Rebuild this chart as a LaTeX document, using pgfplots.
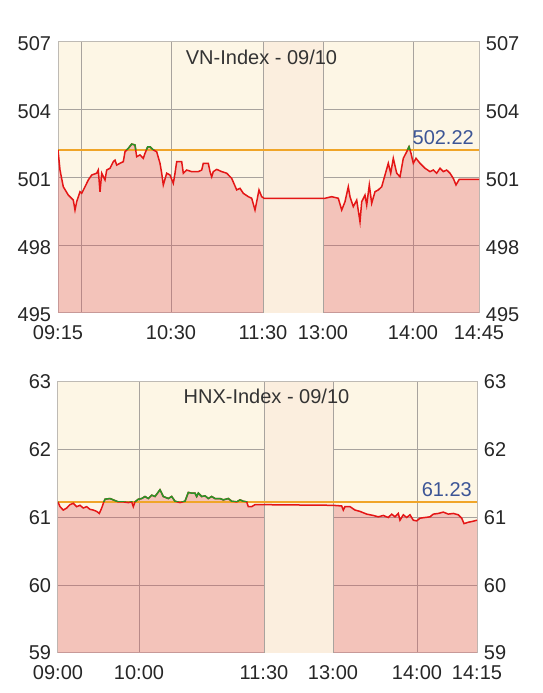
\documentclass[border=0pt]{standalone}
\usepackage{pgfplots}
\usepackage{pgfplotstable}
\pgfplotsset{compat=1.18}
\usepackage{fontspec}
\setmainfont{Liberation Sans}
\definecolor{cream}{RGB}{253,246,229}
\definecolor{lunch}{RGB}{251,238,222}
\definecolor{pinkbase}{RGB}{220,79,88}
\definecolor{gridc}{RGB}{168,163,158}
\definecolor{borderc}{RGB}{190,186,180}
\definecolor{refc}{RGB}{240,165,40}
\definecolor{linec}{RGB}{228,22,22}
\definecolor{upc}{RGB}{40,150,40}
\definecolor{valc}{RGB}{60,85,150}

\pgfplotstableread[row sep=\\]{
x y\\
0 502.22\\ 2 501.33\\ 5.3 500.59\\ 10.3 500.22\\ 15.3 500.00\\ 17 499.56\\ 18.7 499.93\\
22 500.37\\ 23.7 500.30\\ 27 500.59\\ 30.3 500.89\\ 33.7 501.11\\ 38.7 501.19\\ 40.3 501.33\\
42 500.37\\ 43.7 501.19\\ 47 500.89\\ 48.7 501.33\\ 52 501.41\\ 55.3 501.70\\ 57 501.77\\
58.7 501.55\\ 62 501.63\\ 65.3 501.70\\ 67 502.14\\ 70.3 502.29\\ 73.7 502.48\\ 77 502.44\\
78.7 501.92\\ 82 502.00\\ 85.3 501.85\\ 87 502.07\\ 89.7 502.36\\ 92 502.36\\ 95.3 502.22\\
98.7 502.14\\ 102 501.63\\ 103.7 501.19\\ 105.3 500.67\\ 108.7 501.19\\ 112 501.11\\
115.3 500.74\\ 117 501.19\\ 118.7 501.70\\ 123.7 501.70\\ 125.3 501.19\\ 128.7 501.33\\
133.7 501.26\\ 140.3 501.26\\ 143.7 501.33\\ 145.3 501.63\\ 150.3 501.63\\ 152 501.26\\
153.7 501.03\\ 155.3 501.26\\ 158.7 501.36\\ 163.7 501.26\\ 168.7 501.19\\ 173.7 500.96\\
178.7 500.45\\ 182 500.52\\ 185.3 500.30\\ 190.3 500.15\\ 193.7 500.08\\ 197 499.56\\
198.7 499.93\\ 201 500.45\\ 203.7 500.15\\ 206 500.08\\ 267 500.08\\ 273.7 500.15\\
280.3 500.08\\ 283.7 499.56\\ 287 499.93\\ 290.3 500.59\\ 292 500.15\\ 295.3 499.71\\
298.7 500.00\\ 302 499.04\\ 303.7 499.93\\ 307 500.22\\ 308.7 499.78\\ 311.3 500.67\\
313.7 499.86\\ 317 500.37\\ 320.3 500.45\\ 323.7 500.59\\ 327 501.11\\ 330.3 501.63\\
332.7 501.19\\ 335.3 501.85\\ 338.7 501.19\\ 342 501.03\\ 345.3 501.85\\ 348.7 502.14\\
351 502.36\\ 353 502.07\\ 355.3 501.63\\ 358 501.85\\ 362 501.63\\ 367 501.41\\ 372 501.26\\
375.3 501.33\\ 378.7 501.19\\ 382 501.41\\ 385.3 501.26\\ 388.7 501.33\\ 392 501.19\\
395.3 500.96\\ 398 500.67\\ 401.3 500.92\\ 421 500.92\\
}\vndata

\pgfplotstableread[row sep=\\]{
x y\\
0 61.23\\ 2 61.16\\ 5.3 61.11\\ 8.7 61.14\\ 12 61.19\\ 15.3 61.21\\ 18.7 61.16\\ 22 61.18\\
25.3 61.14\\ 28.7 61.16\\ 32 61.12\\ 35.3 61.11\\ 38.7 61.09\\ 41.3 61.06\\ 43.7 61.14\\
45.3 61.21\\ 47 61.27\\ 52 61.28\\ 55.3 61.26\\ 60.3 61.23\\ 65.3 61.23\\ 70.3 61.22\\
73.7 61.23\\ 75.3 61.16\\ 77 61.23\\ 80.3 61.27\\ 83.7 61.28\\ 87 61.31\\ 90.3 61.28\\
93.7 61.33\\ 97 61.31\\ 102 61.41\\ 105.3 61.31\\ 110.3 61.28\\ 113.7 61.31\\ 117 61.24\\
122 61.22\\ 127 61.24\\ 130.3 61.37\\ 133.7 61.36\\ 137 61.36\\ 138.7 61.31\\ 140.3 61.36\\
143.7 61.31\\ 147 61.32\\ 150.3 61.28\\ 153.7 61.31\\ 157 61.28\\ 162 61.28\\ 165.3 61.26\\
170.3 61.28\\ 173.7 61.24\\ 178.7 61.23\\ 182 61.26\\ 185.3 61.24\\ 188.7 61.23\\
190.3 61.16\\ 193.7 61.16\\ 197 61.19\\ 200.3 61.19\\ 275 61.18\\ 283.7 61.17\\ 285.3 61.11\\
287 61.16\\ 292 61.16\\ 297 61.11\\ 302 61.09\\ 308.7 61.05\\ 315.3 61.03\\ 320.3 61.01\\
325.3 61.03\\ 330.3 61.00\\ 333.7 61.05\\ 337 61.01\\ 340.3 61.06\\ 342 60.96\\ 345.3 61.04\\
348.7 61.00\\ 352 61.04\\ 355.3 60.96\\ 358.7 60.95\\ 362 60.99\\ 367 61.00\\ 372 61.01\\
375.3 61.05\\ 380.3 61.06\\ 385.3 61.08\\ 390.3 61.05\\ 395.3 61.06\\ 400.3 61.04\\
403.7 60.99\\ 406 60.91\\ 410.3 60.93\\ 413.7 60.94\\ 419 60.96\\
}\hnxdata

\pgfplotsset{
  panel/.style={
    scale only axis, height=271pt,
    axis background/.style={fill=cream},
    grid=major, major grid style={draw=gridc, line width=1pt},
    axis line style={draw=borderc, line width=1pt},
    tick style={draw=none},
    ticklabel style={font=\fontsize{20}{24}\selectfont, text=black!85, inner sep=0pt},
    /pgf/number format/assume math mode=true,
    xticklabel style={yshift=-12.7pt},
  },
  rightlabels/.style={
    scale only axis, height=271pt,
    xmin=0, xmax=1, xtick=\empty,
    yticklabel pos=right,
    axis line style={draw=none},
    tick style={draw=none},
    ticklabel style={font=\fontsize{20}{24}\selectfont, text=black!85, inner sep=0pt},
    /pgf/number format/assume math mode=true,
  },
}

\begin{document}
\begin{tikzpicture}
\useasboundingbox (0pt,0pt) rectangle (542pt,693pt);

% ---------- VN-Index ----------
\begin{axis}[panel, at={(58pt,380pt)}, anchor=south west, width=421pt,
  xmin=0, xmax=421, ymin=495, ymax=507,
  xtick={0,23,113,205,265,355,421},
  xticklabels={09:15,,10:30,11:30,13:00,14:00,14:45},
  ytick={495,498,501,504,507}, yticklabel style={yshift=-2pt, xshift=-6.7pt}]
\addplot[draw=none, fill=pinkbase, fill opacity=0.3] table {\vndata} \closedcycle;
\fill[lunch] (axis cs:205,495) rectangle (axis cs:265,507);
\draw[gridc, line width=1pt] (axis cs:205,495) -- (axis cs:205,507);
\draw[gridc, line width=1pt] (axis cs:265,495) -- (axis cs:265,507);
\addplot[refc, line width=2pt] coordinates {(0,502.22) (421,502.22)};
\addplot[linec, line width=1.5pt] table {\vndata};
\begin{scope}
\clip (axis cs:0,502.22) rectangle (axis cs:421,507);
\addplot[upc, line width=1.5pt] table {\vndata};
\end{scope}
\node[font=\fontsize{20}{24}\selectfont, text=black!80] at (axis cs:203.5,506.34) {VN-Index - 09/10};
\node[anchor=east, inner sep=0pt, font=\fontsize{20}{24}\selectfont, text=valc] at (axis cs:416,502.75) {502.22};
\end{axis}
\begin{axis}[rightlabels, at={(58pt,380pt)}, anchor=south west, width=421pt,
  ymin=495, ymax=507, ytick={495,498,501,504,507}, yticklabel style={yshift=-2pt, xshift=6.7pt}]
\end{axis}

% ---------- HNX-Index ----------
\begin{axis}[panel, at={(58pt,40pt)}, anchor=south west, width=419pt,
  xmin=0, xmax=419, ymin=59, ymax=63,
  xtick={0,81,206,275,359,419},
  xticklabels={09:00,10:00,11:30,13:00,14:00,14:15},
  ytick={59,60,61,62,63}, yticklabel style={xshift=-6.7pt}]
\addplot[draw=none, fill=pinkbase, fill opacity=0.3] table {\hnxdata} \closedcycle;
\fill[lunch] (axis cs:206,59) rectangle (axis cs:275,63);
\draw[gridc, line width=1pt] (axis cs:206,59) -- (axis cs:206,63);
\draw[gridc, line width=1pt] (axis cs:275,59) -- (axis cs:275,63);
\addplot[refc, line width=2pt] coordinates {(0,61.23) (419,61.23)};
\addplot[linec, line width=1.5pt] table {\hnxdata};
\begin{scope}
\clip (axis cs:0,61.23) rectangle (axis cs:419,63);
\addplot[upc, line width=1.5pt] table {\hnxdata};
\end{scope}
\node[font=\fontsize{20}{24}\selectfont, text=black!80] at (axis cs:208.5,62.79) {HNX-Index - 09/10};
\node[anchor=east, inner sep=0pt, font=\fontsize{20}{24}\selectfont, text=valc] at (axis cs:414,61.41) {61.23};
\end{axis}
\begin{axis}[rightlabels, at={(58pt,40pt)}, anchor=south west, width=419pt,
  ymin=59, ymax=63, ytick={59,60,61,62,63}, yticklabel style={xshift=6.7pt}]
\end{axis}
\end{tikzpicture}
\end{document}
